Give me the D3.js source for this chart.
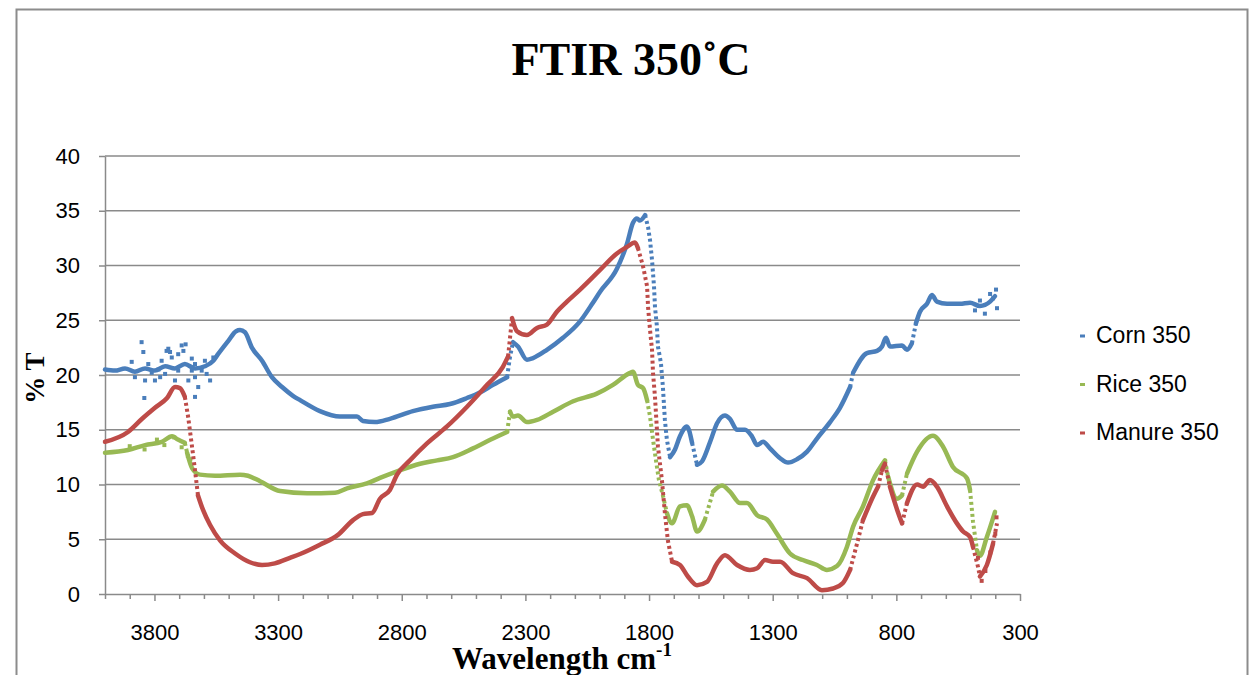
<!DOCTYPE html>
<html>
<head>
<meta charset="utf-8">
<script src="https://cdn.jsdelivr.net/npm/d3@7"></script>
<style>
  body { margin: 0; background: #fff; }
  svg { display: block; }
</style>
</head>
<body>
<div class="svg-container"></div>
<script>
// series names + colours
const seriesNames = ["Corn 350", "Rice 350", "Manure 350"];
const seriesColours = ["#4a7ebb", "#98b954", "#be4b48"];

const xTicks = [3800, 3300, 2800, 2300, 1800, 1300, 800, 300];
const yTicks = [0, 5, 10, 15, 20, 25, 30, 35, 40];

// [wavenumber, %T]
const corn = [
  [4000,20.5],[3960,20.4],[3919,20.6],[3879,20.3],[3838,20.6],[3798,20.4],[3757,20.8],[3717,20.6],
  [3677,21.0],[3636,20.6],[3596,20.8],[3562,21.3],[3543,21.9],[3502,23.1],[3470,24.0],[3454,24.1],
  [3434,23.9],[3406,22.5],[3365,21.3],[3325,19.8],[3284,18.9],[3240,18.1],[3211,17.7],[3131,16.7],
  [3050,16.2],[2981,16.2],[2957,15.8],[2908,15.7],[2848,16.0],[2755,16.7],[2674,17.1],[2605,17.35],
  [2536,17.9],[2484,18.4],[2431,19.1],[2374,19.8],[2362,21.7],[2350,23.0],[2330,22.6],[2294,21.4],
  [2269,21.55],[2213,22.3],[2148,23.4],[2079,24.9],[2027,26.6],[1998,27.6],[1930,29.7],[1889,32.0],
  [1865,33.9],[1849,34.3],[1837,34.1],[1816,34.6],[1804,33.5],[1796,32.3],[1788,30.5],[1780,28.1],
  [1776,26.2],[1768,24.4],[1764,22.6],[1752,21.1],[1744,18.9],[1736,15.9],[1728,14.1],[1715,12.5],
  [1695,13.2],[1675,14.4],[1647,15.3],[1626,13.8],[1606,11.8],[1586,12.1],[1553,13.9],[1525,15.6],
  [1493,16.3],[1473,16.0],[1444,15.0],[1412,15.0],[1384,14.4],[1363,13.6],[1339,13.9],[1311,13.3],
  [1270,12.4],[1238,12.0],[1202,12.3],[1161,13.0],[1121,14.2],[1068,15.7],[1028,17.0],[987,18.9],
  [975,20.2],[919,22.0],[878,22.2],[858,22.6],[842,23.4],[826,22.6],[777,22.7],[757,22.3],
  [737,22.9],[721,24.7],[704,25.8],[676,26.5],[656,27.3],[636,26.7],[595,26.5],[543,26.5],
  [502,26.6],[462,26.3],[421,26.7],[401,27.2]
];

const rice = [
  [4000,12.9],[3907,13.15],[3838,13.6],[3770,13.9],[3729,14.4],[3705,14.1],[3677,13.8],[3668,12.9],
  [3648,11.5],[3616,10.9],[3555,10.8],[3454,10.9],[3422,10.8],[3373,10.3],[3292,9.4],[3183,9.2],
  [3070,9.25],[3021,9.65],[2941,10.1],[2888,10.6],[2819,11.2],[2726,11.9],[2657,12.2],[2593,12.5],
  [2512,13.3],[2431,14.2],[2374,14.8],[2362,16.65],[2350,16.2],[2330,16.3],[2294,15.7],[2253,15.9],
  [2188,16.65],[2107,17.6],[2011,18.3],[1946,19.1],[1877,20.2],[1865,20.3],[1845,19.1],[1824,18.8],
  [1808,17.7],[1796,16.2],[1784,14.1],[1772,12.2],[1760,10.4],[1744,9.0],[1728,7.4],[1707,6.45],
  [1675,8.0],[1647,8.1],[1626,7.1],[1606,5.7],[1574,6.8],[1541,9.35],[1505,9.9],[1473,9.35],
  [1432,8.3],[1404,8.3],[1363,7.2],[1323,6.8],[1283,5.5],[1230,3.7],[1178,3.1],[1121,2.65],
  [1081,2.2],[1040,2.55],[1000,4.3],[975,6.15],[935,8.0],[894,10.4],[846,12.2],[833,10.7],
  [797,8.7],[777,9.0],[757,11.0],[716,13.0],[652,14.45],[611,13.45],[571,11.6],[514,10.55],
  [502,9.5],[490,6.6],[474,4.0],[462,3.5],[434,5.2],[401,7.5]
];

const manure = [
  [4000,13.9],[3907,14.8],[3850,16.0],[3798,17.0],[3749,17.9],[3717,18.9],[3697,18.8],[3677,18.0],
  [3664,16.2],[3648,13.45],[3636,11.3],[3624,9.0],[3604,7.7],[3575,6.3],[3535,4.9],[3474,3.7],
  [3414,2.9],[3365,2.65],[3313,2.8],[3252,3.3],[3211,3.65],[3131,4.5],[3058,5.4],[2997,6.75],
  [2957,7.3],[2920,7.4],[2888,8.7],[2848,9.5],[2819,10.9],[2767,12.2],[2698,13.75],[2617,15.3],
  [2536,17.1],[2455,19.1],[2391,20.75],[2370,21.7],[2354,25.2],[2334,24.0],[2294,23.65],[2253,24.3],
  [2213,24.6],[2172,25.8],[2132,26.7],[2079,27.8],[1998,29.6],[1930,31.1],[1889,31.7],[1857,32.1],
  [1845,31.6],[1824,29.9],[1808,28.1],[1804,26.2],[1796,24.1],[1788,22.3],[1784,20.2],[1776,18.0],
  [1764,13.45],[1748,10.4],[1736,7.4],[1724,4.9],[1707,2.95],[1675,2.65],[1643,1.6],[1606,0.8],
  [1566,1.1],[1525,2.8],[1493,3.55],[1444,2.65],[1392,2.2],[1363,2.35],[1331,3.1],[1299,2.95],
  [1270,2.95],[1218,1.9],[1161,1.45],[1101,0.35],[1056,0.5],[1016,1.0],[987,2.2],[959,4.6],
  [935,6.75],[894,8.9],[874,9.8],[858,11.3],[846,11.9],[826,9.8],[797,7.7],[777,6.45],
  [757,8.3],[716,10.0],[692,9.8],[664,10.4],[636,9.8],[595,8.0],[555,6.45],[530,5.7],
  [502,5.2],[490,4.3],[470,2.5],[462,1.6],[434,2.65],[409,4.6],[393,6.45]
];

// stray noisy points
const cornScatter = [
  [3892,21.2],[3852,23.0],[3845,22.1],[3838,19.5],[3841,17.9],[3825,21.0],[3811,20.2],[3798,19.5],
  [3784,20.5],[3771,21.3],[3757,20.1],[3744,22.4],[3730,21.6],[3717,19.5],[3704,21.9],[3683,22.2],
  [3674,22.8],[3663,19.5],[3649,21.5],[3636,21.0],[3623,18.9],[3609,20.4],[3596,21.3],[3575,19.5],
  [3562,21.6],[3636,18.0],[3751,22.2],[3737,22.1],[3879,19.8],[3777,19.8],[3690,22.7],[3704,20.4],
  [3649,20.4],[3589,20.1],[3636,19.8],
  [482,25.9],[462,26.8],[442,25.6],[421,27.4],[409,27.0],[397,27.8],[393,26.1]
];
const riceScatter = [
  [3900,13.5],[3840,13.2],[3790,14.1],[3760,13.6],[3720,14.3],[3690,13.4],[3665,12.6],[3655,12.3]
];
const manureScatter = [
  [470,3.3],[455,1.2],[440,2.1],[420,3.8],[400,5.5],[395,7.0]
];

const W = 1253, H = 675;
const margin = { left: 105, right: 1020, top: 156, bottom: 594 };

const svg = d3.select(".svg-container")
  .append("svg")
  .attr("width", W)
  .attr("height", H);

// chart border
svg.append("rect")
  .attr("x", 16.5).attr("y", 9.5)
  .attr("width", 1231).attr("height", 700)
  .attr("fill", "none")
  .attr("stroke", "#8c8c8c")
  .attr("stroke-width", 2);

const xScale = d3.scaleLinear().domain([4000, 300]).range([margin.left, margin.right]);
const yScale = d3.scaleLinear().domain([0, 40]).range([margin.bottom, margin.top]);

// gridlines
svg.append("g")
  .selectAll("line")
  .data(yTicks.filter(d => d > 0))
  .enter()
  .append("line")
  .attr("x1", margin.left).attr("x2", margin.right)
  .attr("y1", d => yScale(d)).attr("y2", d => yScale(d))
  .attr("stroke", "#8a8a8a")
  .attr("stroke-width", 1.5);

// X-AXIS (minor ticks every 100)
const minor = d3.range(300, 4001, 100).filter(d => (d - 300) % 500 !== 0);
svg.append("g")
  .attr("transform", "translate(0," + margin.bottom + ")")
  .call(d3.axisBottom(xScale).tickValues(minor).tickSize(5).tickSizeOuter(0).tickFormat(""))
  .call(g => g.select(".domain").remove())
  .call(g => g.selectAll("line").attr("stroke", "#8a8a8a").attr("stroke-width", 1.5));

svg.append("g")
  .attr("id", "x-axis")
  .attr("transform", "translate(0," + margin.bottom + ")")
  .call(d3.axisBottom(xScale).tickValues(xTicks).tickSize(7).tickSizeOuter(0)
    .tickPadding(23).tickFormat(d3.format("d")))
  .call(g => g.select(".domain").attr("stroke", "#8a8a8a").attr("stroke-width", 1.5))
  .call(g => g.selectAll("line").attr("stroke", "#8a8a8a").attr("stroke-width", 1.5))
  .call(g => g.selectAll("text")
    .attr("fill", "#000")
    .style("font-family", "'Liberation Sans', Arial, sans-serif")
    .style("font-size", "22px"));

// Y-AXIS
svg.append("g")
  .attr("id", "y-axis")
  .attr("transform", "translate(" + margin.left + ",0)")
  .call(d3.axisLeft(yScale).tickValues(yTicks).tickSize(6).tickSizeOuter(0).tickPadding(19))
  .call(g => g.select(".domain").attr("stroke", "#8a8a8a").attr("stroke-width", 1.5))
  .call(g => g.selectAll("line").attr("stroke", "#8a8a8a").attr("stroke-width", 1.5))
  .call(g => g.selectAll("text")
    .attr("fill", "#000")
    .style("font-family", "'Liberation Sans', Arial, sans-serif")
    .style("font-size", "22px"));

// split a series in flat runs and steep runs (steep bits show as dotted markers)
function runs(data) {
  const pts = data.map(d => [xScale(d[0]), yScale(d[1])]);
  const out = [];
  let cur = null;
  for (let i = 1; i < pts.length; i++) {
    const a = pts[i - 1], b = pts[i];
    const steep = Math.abs(b[1] - a[1]) > 3 * Math.abs(b[0] - a[0]) + 3;
    if (!cur || cur.steep !== steep) {
      cur = { steep: steep, pts: [a] };
      out.push(cur);
    }
    cur.pts.push(b);
  }
  return out;
}

const smooth = d3.line().curve(d3.curveMonotoneX);
const straight = d3.line();
const allSeries = [corn, rice, manure];
const allScatter = [cornScatter, riceScatter, manureScatter];

allSeries.forEach((data, i) => {
  const g = svg.append("g").attr("class", "series");
  g.selectAll("path")
    .data(runs(data))
    .enter()
    .append("path")
    .attr("d", d => d.steep ? straight(d.pts) : smooth(d.pts))
    .attr("fill", "none")
    .attr("stroke", seriesColours[i])
    .attr("stroke-width", d => d.steep ? 4 : 4.5)
    .attr("stroke-linejoin", "round")
    .attr("stroke-linecap", d => d.steep ? "butt" : "round")
    .attr("stroke-dasharray", d => d.steep ? "3,3" : null);

  g.selectAll(".dot")
    .data(allScatter[i])
    .enter()
    .append("rect")
    .attr("class", "dot")
    .attr("x", d => xScale(d[0]) - 2)
    .attr("y", d => yScale(d[1]) - 2)
    .attr("width", 4)
    .attr("height", 4)
    .attr("fill", seriesColours[i]);
});

// TITLE
svg.append("text")
  .attr("x", 631)
  .attr("y", 75)
  .attr("text-anchor", "middle")
  .style("font-family", "'Liberation Serif', 'Times New Roman', serif")
  .style("font-weight", "bold")
  .style("font-size", "46px")
  .text("FTIR 350˚C");

// x label
const xl = svg.append("text")
  .attr("x", 562)
  .attr("y", 669)
  .attr("text-anchor", "middle")
  .style("font-family", "'Liberation Serif', 'Times New Roman', serif")
  .style("font-weight", "bold")
  .style("font-size", "31px");
xl.append("tspan").text("Wavelength cm");
xl.append("tspan").attr("dy", -13).style("font-size", "19px").text("-1");

// y label
svg.append("text")
  .attr("transform", "translate(44,378) rotate(-90)")
  .attr("text-anchor", "middle")
  .style("font-family", "'Liberation Serif', 'Times New Roman', serif")
  .style("font-weight", "bold")
  .style("font-size", "27px")
  .text("% T");

// LEGEND
const legend = svg.append("g").attr("id", "legend");
legend.selectAll("rect")
  .data(seriesColours)
  .enter()
  .append("rect")
  .attr("x", 1080)
  .attr("y", (d, i) => 334.5 + i * 48.5)
  .attr("width", 5)
  .attr("height", 3)
  .attr("fill", d => d);

legend.selectAll("text")
  .data(seriesNames)
  .enter()
  .append("text")
  .attr("x", 1096)
  .attr("y", (d, i) => 343 + i * 48.5)
  .style("font-family", "'Liberation Sans', Arial, sans-serif")
  .style("font-size", "23px")
  .text(d => d);
</script>
</body>
</html>
